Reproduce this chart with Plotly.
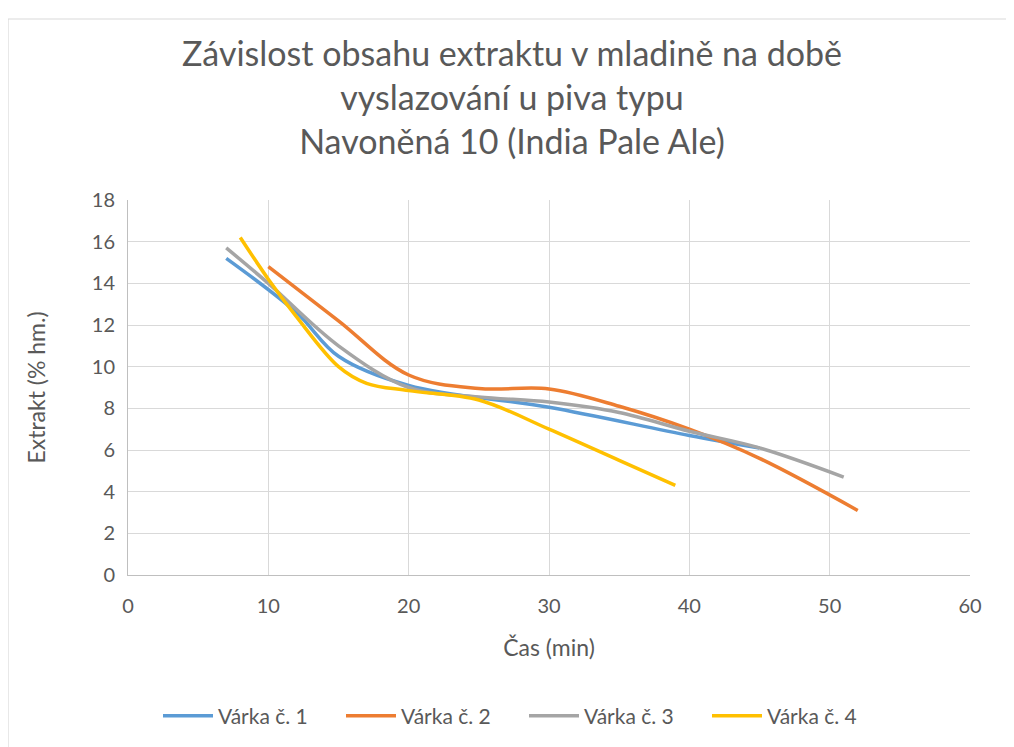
import plotly.graph_objects as go

# Data
series_names = ["Várka č. 1", "Várka č. 2", "Várka č. 3", "Várka č. 4"]
x1 = [7, 12, 15, 20, 30, 40, 45]
y1 = [15.2, 12.6, 10.5, 9.1, 8.05, 6.7, 6.1]
x2 = [10, 15, 20, 25, 30, 35, 40, 45, 52]
y2 = [14.8, 12.2, 9.6, 8.95, 8.93, 8.1, 7.0, 5.6, 3.1]
x3 = [7, 10, 15, 20, 25, 30, 35, 40, 45, 51]
y3 = [15.7, 14.0, 11.0, 9.0, 8.55, 8.3, 7.8, 6.9, 6.1, 4.7]
x4 = [8, 10, 12, 15, 17, 20, 25, 30, 35, 39]
y4 = [16.2, 14.2, 12.4, 10.0, 9.2, 8.85, 8.4, 7.0, 5.5, 4.3]
colors = ["#5B9BD5", "#ED7D31", "#A5A5A5", "#FFC000"]

title_text = ("Závislost obsahu extraktu v mladině na době<br>"
              "vyslazování u piva typu<br>Navoněná 10 (India Pale Ale)")
x_title = "Čas (min)"
y_title = "Extrakt (% hm.)"

FONT = "Lato, 'Open Sans', sans-serif"
TXT = "#595959"

fig = go.Figure()
for name, xs, ys, c in zip(series_names, [x1, x2, x3, x4], [y1, y2, y3, y4], colors):
    fig.add_trace(go.Scatter(
        x=xs, y=ys, name=name, mode="lines",
        line=dict(color=c, width=3.5, shape="spline", smoothing=1.0),
    ))

W, H = 1014, 747
OFF = 8  # page offset of the figure inside the window
L, T = 128 - OFF, 200 - OFF
R = W - (970 - OFF)
B = H - (575 - OFF)
pw, ph = W - L - R, H - T - B

def px2paper_x(px):
    return (px - OFF - L) / pw

def py2paper_y(py):
    return (H - B - (py - OFF)) / ph

fig.add_shape(type="rect", xref="paper", yref="paper",
              x0=px2paper_x(8), x1=px2paper_x(1012),
              y0=py2paper_y(800), y1=py2paper_y(19),
              line=dict(color="#D9D9D9", width=1.2), fillcolor="rgba(0,0,0,0)",
              layer="below")

fig.update_layout(
    width=W, height=H,
    margin=dict(l=L, r=R, t=T, b=B),
    paper_bgcolor="white", plot_bgcolor="white",
    font=dict(family=FONT, color=TXT),
    title=dict(text=title_text, x=px2paper_x(512), xref="paper", xanchor="center",
               y=1 - 58 / H, yanchor="top",
               font=dict(size=34, color=TXT, family=FONT)),
    xaxis=dict(range=[0, 60], dtick=10, showgrid=True, gridcolor="#D9D9D9", gridwidth=1,
               zeroline=False, showline=True, linecolor="#BFBFBF", linewidth=1,
               ticks="", ticklabelstandoff=13, tickfont=dict(size=20, color=TXT),
               title=dict(text=x_title, font=dict(size=23, color=TXT), standoff=23)),
    yaxis=dict(range=[0, 18], dtick=2, showgrid=True, gridcolor="#D9D9D9", gridwidth=1,
               zeroline=False, showline=True, linecolor="#BFBFBF", linewidth=1,
               ticks="", ticklabelstandoff=8, tickfont=dict(size=20, color=TXT),
               title=dict(text=y_title, font=dict(size=23, color=TXT), standoff=39)),
    legend=dict(orientation="h", x=px2paper_x(158), xanchor="left",
                y=py2paper_y(716), yanchor="middle", entrywidth=118, entrywidthmode="pixels",
                font=dict(size=21, color=TXT), itemwidth=50, traceorder="normal"),
    showlegend=True,
)

fig.write_html("out.html")
